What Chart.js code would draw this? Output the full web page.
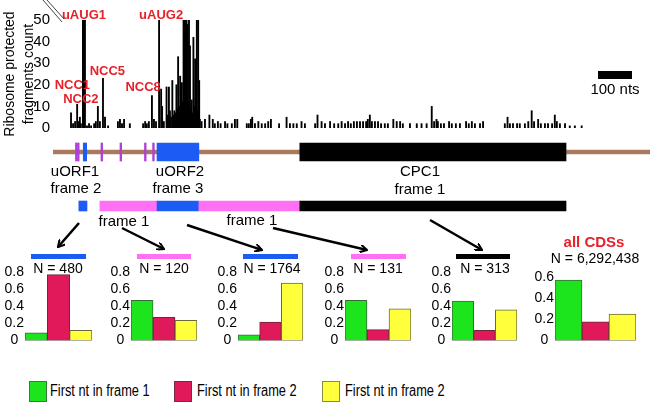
<!DOCTYPE html>
<html>
<head>
<meta charset="utf-8">
<script src="https://cdn.jsdelivr.net/npm/chart.js@4"></script>
<style>
  body { margin: 0; background: #fff; }
  #wrap { position: relative; width: 650px; height: 404px; overflow: hidden; font-family: "Liberation Sans", Arial, sans-serif; }
  canvas, svg { position: absolute; }
  .t { position: absolute; transform: translate(-50%, -50%); white-space: nowrap; font-size: 15px; color: #000; }
  .bar { position: absolute; height: 5px; }
  .lg { position: absolute; top: 381px; width: 16px; height: 19px; border: 1px solid #555; }
  .lgt { position: absolute; top: 382px; font-size: 16px; transform: scaleX(0.8); transform-origin: left top; white-space: nowrap; }
</style>
</head>
<body>
<div id="wrap">
  <canvas id="footprints" width="650" height="140" style="left:0;top:0"></canvas>
  <canvas id="gene" width="650" height="150" style="left:0;top:100px"></canvas>
  <canvas id="c1" width="92" height="90" style="left:0;top:260px"></canvas>
  <canvas id="c2" width="92" height="90" style="left:105px;top:260px"></canvas>
  <canvas id="c3" width="91" height="90" style="left:212px;top:260px"></canvas>
  <canvas id="c4" width="91" height="90" style="left:320px;top:260px"></canvas>
  <canvas id="c5" width="90" height="90" style="left:427px;top:260px"></canvas>
  <canvas id="c6" width="108" height="90" style="left:528px;top:260px"></canvas>

  <div class="t" style="left:75px;top:170px">uORF1</div>
  <div class="t" style="left:76px;top:187px">frame 2</div>
  <div class="t" style="left:180px;top:170px">uORF2</div>
  <div class="t" style="left:178px;top:187px">frame 3</div>
  <div class="t" style="left:420px;top:170px">CPC1</div>
  <div class="t" style="left:420px;top:188px">frame 1</div>
  <div class="t" style="left:124px;top:220px">frame 1</div>
  <div class="t" style="left:252px;top:219px">frame 1</div>

  <div class="bar" style="left:31px;top:254px;width:55px;background:#1c5cf5"></div>
  <div class="bar" style="left:137px;top:254px;width:54px;background:#ff70f5"></div>
  <div class="bar" style="left:243px;top:254px;width:55px;background:#1c5cf5"></div>
  <div class="bar" style="left:351px;top:254px;width:55px;background:#ff70f5"></div>
  <div class="bar" style="left:456px;top:254px;width:54px;background:#000"></div>

  <div class="t" style="left:58px;top:268px;font-size:14px">N = 480</div>
  <div class="t" style="left:164px;top:268px;font-size:14px">N = 120</div>
  <div class="t" style="left:272px;top:268px;font-size:14px">N = 1764</div>
  <div class="t" style="left:378px;top:268px;font-size:14px">N = 131</div>
  <div class="t" style="left:485px;top:268px;font-size:14px">N = 313</div>
  <div class="t" style="left:594px;top:241px;font-weight:bold;color:#e8202a">all CDSs</div>
  <div class="t" style="left:595px;top:258px;font-size:14px">N = 6,292,438</div>

  <div class="lg" style="left:29px;background:#1de51d;border-color:#3a7a3a"></div>
  <div class="lgt" style="left:50px">First nt in frame 1</div>
  <div class="lg" style="left:174px;background:#e0195a;border-color:#7a2a44"></div>
  <div class="lgt" style="left:197px">First nt in frame 2</div>
  <div class="lg" style="left:322px;background:#ffff3c;border-color:#8a8a44"></div>
  <div class="lgt" style="left:345px">First nt in frame 2</div>

  <svg width="650" height="404" style="left:0;top:0">
    <defs>
      <marker id="head" markerWidth="8" markerHeight="8" refX="7" refY="4" orient="auto" markerUnits="userSpaceOnUse">
        <polyline points="0,0 7,4 0,8" fill="none" stroke="#000" stroke-width="2"/>
      </marker>
    </defs>
    <g stroke="#000" stroke-width="2.5" marker-end="url(#head)">
      <line x1="79" y1="223" x2="58" y2="247"/>
      <line x1="122" y1="228" x2="164" y2="249"/>
      <line x1="187" y1="225" x2="262" y2="250"/>
      <line x1="273" y1="228" x2="367" y2="250"/>
      <line x1="430" y1="220" x2="482" y2="250"/>
    </g>
    <g stroke="#444" stroke-width="1">
      <line x1="43" y1="0" x2="62" y2="22"/>
      <line x1="47" y1="0" x2="64" y2="19"/>
    </g>
  </svg>
</div>

<script>
const FONT = '"Liberation Sans", Arial, sans-serif';
Chart.defaults.font.family = FONT;
Chart.defaults.color = '#000';

// footprint positions (nt from start of transcript) and counts
const fpPos = [53,59,65,71,74,76,79,82,88,91,94,100,106,112,121,126,132,138,147,153,162,191,197,203,209,226,
  265,271,276,282,291,297,303,312,318,321,326,334,337,341,344,347,351,354,357,360,363,366,368,371,374,376,379,
  381,384,387,389,391,393,396,398,400,403,405,408,410,413,415,418,420,423,425,427,430,432,
  437,447,460,470,476,485,493,506,513,526,535,542,570,576,582,586,594,604,614,624,633,641,665,687,697,707,717,
  731,741,771,778,790,800,815,827,839,849,859,868,876,885,894,903,912,921,926,932,938,947,956,965,976,985,
  1001,1011,1021,1029,1050,1070,1084,1099,1114,1121,1128,1132,1141,1150,1165,1173,1185,1197,1215,1223,1232,
  1241,1256,1265,1329,1337,1344,1353,1365,1373,1388,1398,1408,1415,1427,1435,1447,1456,1468,1476,1482,1491,
  1506,1520,1535,1555];
const fpCount = [7,2,3,11,2,3,5,2,50,50,50,1,2,1,2,3,10,3,23,5,1,3,4,2,4,2,
  2,3,2,3,15,4,3,50,18,10,3,19,6,19,8,5,22,6,8,7,20,9,33,10,24,8,21,
  12,50,50,14,50,50,48,11,50,38,9,13,7,42,10,32,6,50,8,50,22,4,
  3,4,6,4,2,3,2,3,2,2,4,4,2,2,4,5,2,3,2,2,3,4,2,5,2,2,2,
  3,2,2,6,3,2,3,2,2,3,2,3,2,3,3,3,3,3,4,6,3,3,3,2,2,2,
  4,3,3,2,2,2,2,2,10,3,4,3,2,2,3,2,2,2,3,2,3,
  2,2,3,2,5,2,2,2,2,2,3,8,3,4,2,2,2,2,6,3,2,
  2,1,1,1];
const transcriptLength = 1756;

// red annotations on the footprint track
const annotText = ['uAUG1', 'uAUG2', 'NCC1', 'NCC2', 'NCC5', 'NCC8'];
const annotNt = [91, 318, 57, 82, 160, 265];
const annotCount = [52, 52, 19.5, 13, 26.4, 18.6];

// gene model (nt)
const nccTicks = [[66, 71], [72, 77], [141, 146], [197, 202], [269, 274], [293, 298]];
const orfs = [[89, 99], [306, 429], [726, 1509]];
const orfColors = ['#1c5cf5', '#1c5cf5', '#000'];
const frameSegs = [[76, 100], [138, 306], [306, 429], [429, 726], [726, 1509]];
const frameColors = ['#1c5cf5', '#ff70f5', '#1c5cf5', '#ff70f5', '#000'];

// frame fractions
const frameLabels = ['First nt in frame 1', 'First nt in frame 2', 'First nt in frame 2'];
const uorf1Frac = [0.09, 0.77, 0.12];
const between1Frac = [0.47, 0.27, 0.235];
const uorf2Frac = [0.067, 0.217, 0.67];
const between2Frac = [0.47, 0.128, 0.37];
const cpc1Frac = [0.46, 0.12, 0.36];
const allCdsFrac = [0.57, 0.176, 0.25];

const barColors = ['#1de51d', '#e0195a', '#ffff3c'];
const barBorders = ['#3a6a3a', '#6a2a3a', '#6a6a3a'];

const annotPlugin = {
  id: 'annot',
  afterDatasetsDraw(chart) {
    const ctx = chart.ctx, x = chart.scales.x, y = chart.scales.y;
    ctx.save();
    ctx.fillStyle = '#e8202a';
    ctx.font = 'bold 13px ' + FONT;
    ctx.textAlign = 'center';
    ctx.textBaseline = 'middle';
    annotText.forEach((t, i) => ctx.fillText(t, x.getPixelForValue(annotNt[i]), y.getPixelForValue(annotCount[i])));
    // 100 nt scale bar
    const x0 = x.getPixelForValue(1603), x1 = x.getPixelForValue(1703);
    ctx.fillStyle = '#000';
    ctx.fillRect(x0, 71, x1 - x0, 8);
    ctx.font = '15px ' + FONT;
    ctx.fillText('100 nts', (x0 + x1) / 2, 90);
    ctx.restore();
  }
};

new Chart(document.getElementById('footprints'), {
  type: 'bar',
  data: {
    datasets: [{
      data: fpPos.map((p, i) => ({ x: p, y: fpCount[i] })),
      backgroundColor: '#000',
      barThickness: 1.2
    }]
  },
  options: {
    responsive: false,
    animation: false,
    layout: { padding: { top: 20, bottom: 10, left: 0, right: 0 } },
    plugins: { legend: { display: false }, tooltip: { enabled: false } },
    scales: {
      x: { type: 'linear', min: 0, max: transcriptLength, offset: false, display: false },
      y: {
        min: 0, max: 50,
        ticks: { stepSize: 10, font: { size: 15 }, padding: 3 },
        grid: { display: false, drawTicks: false },
        border: { display: false },
        title: { display: true, text: ['Ribosome protected', 'fragments count'], font: { size: 14, lineHeight: 1.4 }, padding: 0 },
        afterFit(s) { s.width = 53; }
      }
    }
  },
  plugins: [annotPlugin]
});

new Chart(document.getElementById('gene'), {
  type: 'bar',
  data: {
    labels: ['mRNA', 'frames'],
    datasets: [
      { data: [{ y: 'mRNA', x: [0, transcriptLength] }], backgroundColor: '#a97a5e', barThickness: 4, grouped: false, order: 3 },
      { data: nccTicks.map(r => ({ y: 'mRNA', x: r })), backgroundColor: '#b040d8', barThickness: 18, grouped: false, order: 2 },
      { data: orfs.map(r => ({ y: 'mRNA', x: r })), backgroundColor: orfColors, barThickness: 18, grouped: false, order: 1 },
      { data: frameSegs.map(r => ({ y: 'frames', x: r })), backgroundColor: frameColors, barThickness: 10, grouped: false, order: 1 }
    ]
  },
  options: {
    indexAxis: 'y',
    responsive: false,
    animation: false,
    layout: { padding: { top: 25, bottom: 17, left: 53, right: 0 } },
    plugins: { legend: { display: false }, tooltip: { enabled: false } },
    scales: {
      x: { type: 'linear', min: 0, max: transcriptLength, display: false },
      y: { display: false }
    }
  }
});

function frameChart(id, values, max, axisWidth, padTop) {
  new Chart(document.getElementById(id), {
    type: 'bar',
    data: {
      labels: frameLabels,
      datasets: [{
        data: values,
        backgroundColor: barColors,
        borderColor: barBorders,
        borderWidth: 1,
        borderSkipped: false,
        categoryPercentage: 1,
        barPercentage: 1
      }]
    },
    options: {
      responsive: false,
      animation: false,
      layout: { padding: { top: padTop, bottom: 4, left: 0, right: 0 } },
      plugins: { legend: { display: false }, tooltip: { enabled: false } },
      scales: {
        x: { display: false },
        y: {
          min: 0, max: max,
          ticks: { stepSize: 0.2, autoSkip: false, crossAlign: 'center', padding: 1, font: { size: 14 } },
          grid: { display: false, drawTicks: false },
          border: { display: false },
          afterFit(s) { s.width = axisWidth; }
        }
      }
    }
  });
}

frameChart('c1', uorf1Frac, 0.8, 25, 12);
frameChart('c2', between1Frac, 0.8, 26, 12);
frameChart('c3', uorf2Frac, 0.8, 26, 12);
frameChart('c4', between2Frac, 0.8, 25, 12);
frameChart('c5', cpc1Frac, 0.8, 25, 12);
frameChart('c6', allCdsFrac, 0.6, 27, 17);
</script>
</body>
</html>
